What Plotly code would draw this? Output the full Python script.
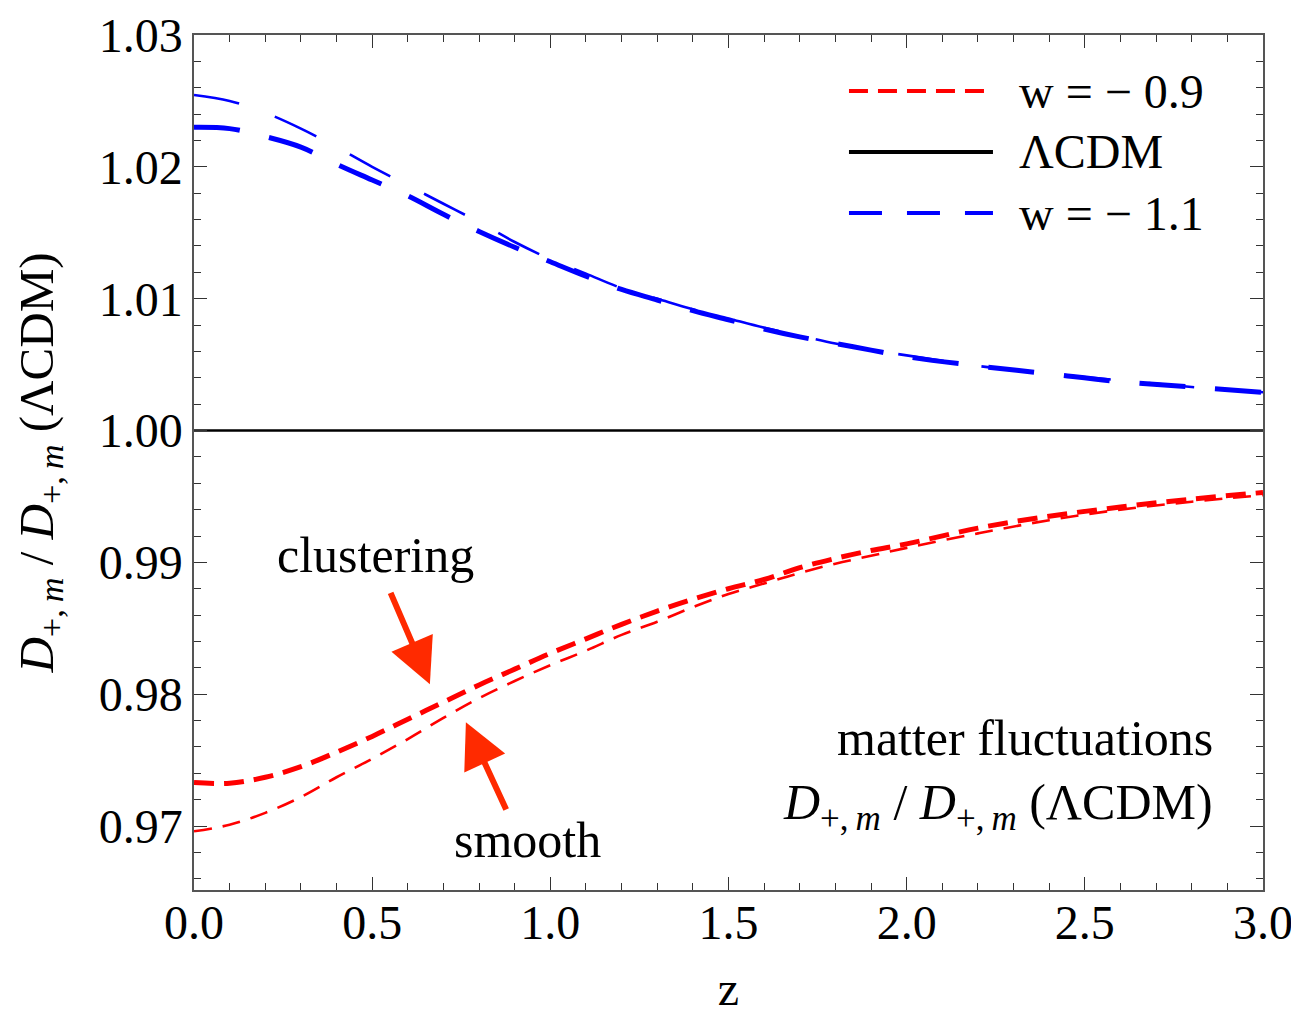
import plotly.graph_objects as go

# ---------------- data ----------------
z = [0.0, 0.1, 0.2, 0.3, 0.4, 0.5, 0.6, 0.7, 0.8, 0.9, 1.0, 1.1, 1.2, 1.3, 1.4,
     1.5, 1.6, 1.7, 1.8, 1.9, 2.0, 2.2, 2.4, 2.6, 2.8, 3.0]

# w = -0.9, clustering (thick) and smooth (thin)
red_clustering = [0.9733, 0.97325, 0.9737, 0.9745, 0.9756, 0.9768, 0.9781, 0.9794,
                  0.9807, 0.9819, 0.9831, 0.9842, 0.9853, 0.9863, 0.9872, 0.9880,
                  0.9887, 0.9896, 0.9903, 0.9909, 0.9914, 0.9926, 0.9935, 0.9942,
                  0.9948, 0.9953]
red_smooth = [0.9696, 0.9701, 0.9710, 0.9722, 0.9737, 0.9751, 0.9766, 0.9782,
              0.9797, 0.9810, 0.9822, 0.9833, 0.9845, 0.9855, 0.9866, 0.9876,
              0.9884, 0.9892, 0.9899, 0.9905, 0.9911, 0.9922, 0.9932, 0.9940,
              0.9946, 0.9951]

# w = -1.1, clustering (thick) and smooth (thin)
blue_clustering = [1.0230, 1.0229, 1.0223, 1.0215, 1.0202, 1.0190, 1.0178, 1.0164,
                   1.0151, 1.0139, 1.0128, 1.0117, 1.0107, 1.0099, 1.0091, 1.0084,
                   1.0077, 1.0071, 1.0066, 1.0061, 1.0056, 1.0049, 1.0043, 1.0037,
                   1.0033, 1.0029]
blue_smooth = [1.02545, 1.0250, 1.0241, 1.0229, 1.0215, 1.0200, 1.0186, 1.0172,
               1.0158, 1.0143, 1.0130, 1.0119, 1.0108, 1.0100, 1.0092, 1.0085,
               1.0078, 1.0072, 1.0066, 1.0061, 1.0057, 1.0049, 1.0043, 1.0038,
               1.0033, 1.0029]

lcdm = [1.0] * len(z)

x_ticks = [0.0, 0.5, 1.0, 1.5, 2.0, 2.5, 3.0]
x_tick_labels = ["0.0", "0.5", "1.0", "1.5", "2.0", "2.5", "3.0"]
y_ticks = [0.97, 0.98, 0.99, 1.00, 1.01, 1.02, 1.03]
y_tick_labels = ["0.97", "0.98", "0.99", "1.00", "1.01", "1.02", "1.03"]

legend_labels = ["w = \u2212 0.9", "\u039bCDM", "w = \u2212 1.1"]

# ---------------- figure ----------------
FONT = "Liberation Serif, Times New Roman, serif"
RED = "#FF0000"
BLUE = "#0000FF"
ARROW = "#FF2A00"
RATIO = ("<i>D</i><sub>+,\u2009<i>m</i></sub> / "
         "<i>D</i><sub>+,\u2009<i>m</i></sub> (\u039bCDM)")

fig = go.Figure()

fig.add_trace(go.Scatter(x=z, y=lcdm, mode="lines",
                         line=dict(color="black", width=2.5), showlegend=False))
fig.add_trace(go.Scatter(x=z, y=blue_smooth, mode="lines", line_shape="spline",
                         line=dict(color=BLUE, width=2.6, dash="46px,38px"),
                         showlegend=False))
fig.add_trace(go.Scatter(x=z, y=blue_clustering, mode="lines", line_shape="spline",
                         line=dict(color=BLUE, width=5, dash="46px,30px"),
                         showlegend=False))
fig.add_trace(go.Scatter(x=z, y=red_smooth, mode="lines", line_shape="spline",
                         line=dict(color=RED, width=2.6, dash="18px,11px"),
                         showlegend=False))
fig.add_trace(go.Scatter(x=z, y=red_clustering, mode="lines", line_shape="spline",
                         line=dict(color=RED, width=5, dash="20px,10px"),
                         showlegend=False))

# ---------------- manual legend ----------------
leg_x0, leg_x1, leg_tx = 0.6127, 0.7474, 0.7699
leg_rows = [0.9345, 0.8632, 0.7918]
leg_styles = [dict(color=RED, width=4, dash="19px,10px"),
              dict(color="black", width=4, dash="solid"),
              dict(color=BLUE, width=4, dash="33px,25px")]
for yy, st, lab in zip(leg_rows, leg_styles, legend_labels):
    fig.add_shape(type="line", xref="paper", yref="paper",
                  x0=leg_x0, x1=leg_x1, y0=yy, y1=yy, line=st)
    fig.add_annotation(xref="paper", yref="paper", x=leg_tx, y=yy,
                       text=lab, showarrow=False, xanchor="left", yanchor="middle",
                       font=dict(family=FONT, size=48, color="black"))

# ---------------- text annotations ----------------
fig.add_annotation(x=0.51, y=0.99055, xref="x", yref="y", text="clustering",
                   showarrow=False, font=dict(family=FONT, size=50, color="black"))
fig.add_annotation(x=0.935, y=0.96898, xref="x", yref="y", text="smooth",
                   showarrow=False, font=dict(family=FONT, size=50, color="black"))
fig.add_annotation(x=2.865, y=0.97665, xref="x", yref="y", text="matter fluctuations",
                   showarrow=False, xanchor="right",
                   font=dict(family=FONT, size=50, color="black"))
fig.add_annotation(x=2.865, y=0.97153, xref="x", yref="y", text=RATIO,
                   showarrow=False, xanchor="right",
                   font=dict(family=FONT, size=50, color="black"))

# arrows
fig.add_annotation(x=0.662, y=0.98076, ax=0.550, ay=0.98780,
                   xref="x", yref="y", axref="x", ayref="y", text="",
                   showarrow=True, arrowhead=2, arrowsize=1.5, arrowwidth=6,
                   arrowcolor=ARROW, standoff=0)
fig.add_annotation(x=0.763, y=0.97788, ax=0.878, ay=0.97114,
                   xref="x", yref="y", axref="x", ayref="y", text="",
                   showarrow=True, arrowhead=2, arrowsize=1.5, arrowwidth=6,
                   arrowcolor=ARROW, standoff=0)

axis_common = dict(
    showgrid=False, zeroline=False, showline=True, linecolor="#555555", linewidth=1.5,
    mirror="allticks", ticks="inside", ticklen=13, tickwidth=1.3, tickcolor="#333333",
    tickfont=dict(family=FONT, size=48, color="black"), automargin=False,
    ticklabeloverflow="allow",
)

fig.update_xaxes(range=[0, 3], tickvals=x_ticks, ticktext=x_tick_labels,
                 ticklabelstandoff=-10,
                 minor=dict(dtick=0.1, ticks="inside", ticklen=7, tickwidth=1, tickcolor="#333333"),
                 title=dict(text="z", font=dict(family=FONT, size=48, color="black"), standoff=48),
                 **axis_common)
fig.update_yaxes(range=[0.96515, 1.03], tickvals=y_ticks, ticktext=y_tick_labels,
                 minor=dict(dtick=0.002, ticks="inside", ticklen=7, tickwidth=1, tickcolor="#333333"),
                 title=dict(text=RATIO, font=dict(family=FONT, size=49, color="black"), standoff=30),
                 **axis_common)

# the page adds an 8px body margin, so the figure is offset by 8px
fig.update_layout(
    width=1289, height=1007,
    margin=dict(l=186, r=34, t=27, b=125),
    plot_bgcolor="white", paper_bgcolor="white",
    showlegend=False,
)

fig.write_html("out.html")
